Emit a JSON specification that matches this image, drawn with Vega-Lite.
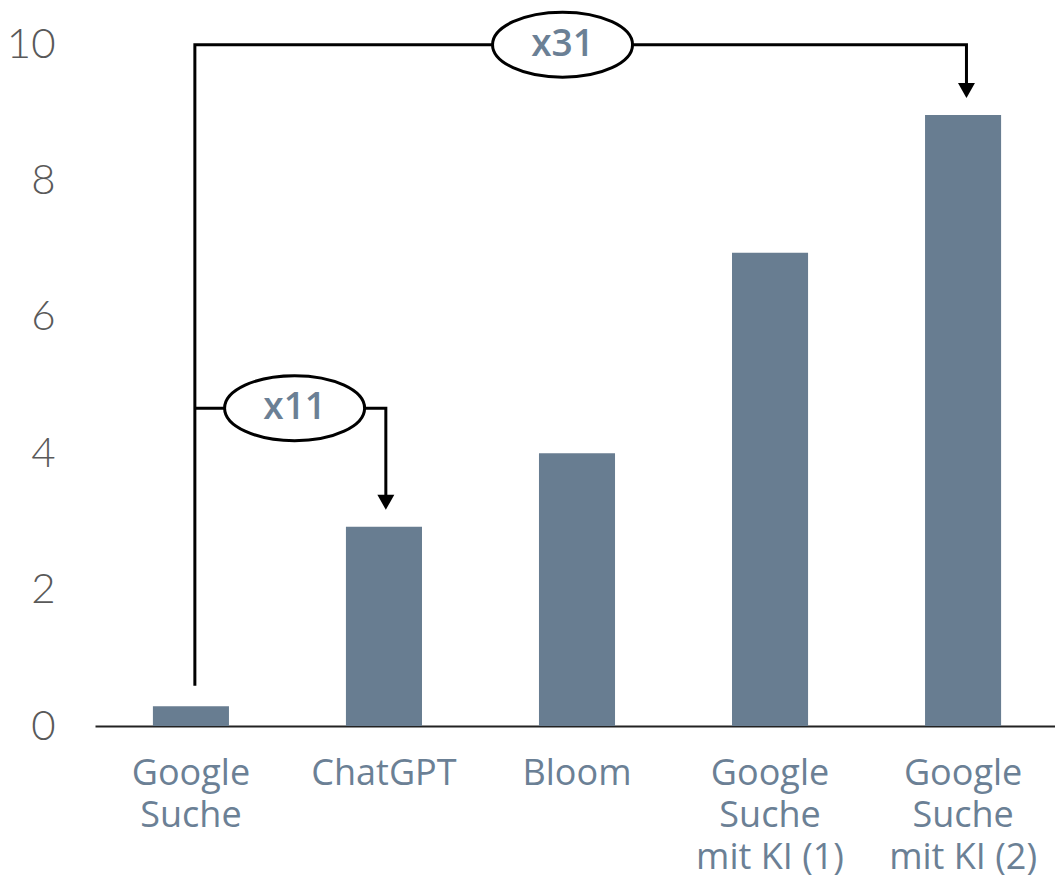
{
  "$schema": "https://vega.github.io/schema/vega-lite/v6.json",
  "width": 964,
  "height": 682,
  "autosize": {"type": "none"},
  "padding": {"left": 95, "top": 44, "right": 0, "bottom": 155},
  "background": "white",
  "config": {
    "view": {"stroke": null},
    "axis": {"grid": false},
    "axisY": {
      "domain": false,
      "ticks": false,
      "labelFont": "Lato",
      "labelFontWeight": 300,
      "labelFontSize": 42,
      "labelColor": "#595959",
      "labelPadding": 40,
      "tickCount": 5
    },
    "axisX": {
      "domainColor": "#222222",
      "domainWidth": 2,
      "ticks": false,
      "labelAngle": 0,
      "labelFont": "Open Sans",
      "labelFontSize": 36,
      "labelColor": "#6b8095",
      "labelPadding": 30,
      "labelLineHeight": 42,
      "labelLimit": 300
    }
  },
  "datasets": {
    "bars": [
      {"system": "Google\nSuche", "value": 0.29},
      {"system": "ChatGPT", "value": 2.92},
      {"system": "Bloom", "value": 4.0},
      {"system": "Google\nSuche\nmit KI (1)", "value": 6.94},
      {"system": "Google\nSuche\nmit KI (2)", "value": 8.96}
    ],
    "paths": [
      {"arrow": "x31", "step": 1, "pos": 0.02, "value": 0.59},
      {"arrow": "x31", "step": 2, "pos": 0.02, "value": 9.99},
      {"arrow": "x31", "step": 3, "pos": 4.02, "value": 9.99},
      {"arrow": "x31", "step": 4, "pos": 4.02, "value": 9.35},
      {"arrow": "x11", "step": 1, "pos": 0.02, "value": 4.66},
      {"arrow": "x11", "step": 2, "pos": 1.01, "value": 4.66},
      {"arrow": "x11", "step": 3, "pos": 1.01, "value": 3.33}
    ],
    "badges": [
      {"label": "x31", "pos": 1.926, "value": 9.99},
      {"label": "x11", "pos": 0.537, "value": 4.66}
    ],
    "tips": [
      {"arrow": "x31", "pos": 4.02, "value": 9.21},
      {"arrow": "x11", "pos": 1.01, "value": 3.17}
    ]
  },
  "resolve": {"scale": {"x": "independent"}},
  "layer": [
    {
      "data": {"name": "bars"},
      "mark": {"type": "bar", "color": "#687d91"},
      "encoding": {
        "x": {
          "field": "system",
          "type": "nominal",
          "sort": null,
          "title": null,
          "scale": {"paddingInner": 0.606, "paddingOuter": 0.3},
          "axis": {"labelExpr": "split(datum.label, '\\n')", "labelOverlap": false}
        },
        "y": {
          "field": "value",
          "type": "quantitative",
          "title": null,
          "scale": {"domain": [0, 10], "nice": false}
        }
      }
    },
    {
      "layer": [
        {
          "data": {"name": "paths"},
          "mark": {"type": "line", "color": "black", "strokeWidth": 3, "strokeCap": "butt", "strokeJoin": "miter"},
          "encoding": {
            "x": {"field": "pos", "type": "quantitative", "scale": {"domain": [-0.4977, 4.4997], "nice": false, "zero": false}, "axis": null},
            "y": {"field": "value", "type": "quantitative", "title": null},
            "detail": {"field": "arrow"},
            "order": {"field": "step"}
          }
        },
        {
          "data": {"name": "tips"},
          "mark": {"type": "point", "shape": "M-1,-1.76L1,-1.76L0,0Z", "size": 289, "filled": true, "fill": "black", "strokeWidth": 0, "opacity": 1},
          "encoding": {
            "x": {"field": "pos", "type": "quantitative", "scale": {"domain": [-0.4977, 4.4997], "nice": false, "zero": false}, "axis": null},
            "y": {"field": "value", "type": "quantitative", "title": null}
          }
        },
        {
          "data": {"name": "badges"},
          "mark": {
            "type": "point",
            "shape": "M-1,0C-1,-0.2563,-0.5523,-0.464,0,-0.464C0.5523,-0.464,1,-0.2563,1,0C1,0.2563,0.5523,0.464,0,0.464C-0.5523,0.464,-1,0.2563,-1,0Z",
            "size": 19600,
            "filled": true,
            "fill": "white",
            "stroke": "black",
            "strokeWidth": 3,
            "opacity": 1
          },
          "encoding": {
            "x": {"field": "pos", "type": "quantitative", "scale": {"domain": [-0.4977, 4.4997], "nice": false, "zero": false}, "axis": null},
            "y": {"field": "value", "type": "quantitative", "title": null}
          }
        },
        {
          "data": {"name": "badges"},
          "mark": {"type": "text", "font": "Open Sans", "fontSize": 37, "fontWeight": 600, "color": "#6b8095", "align": "center", "baseline": "middle"},
          "encoding": {
            "x": {"field": "pos", "type": "quantitative", "scale": {"domain": [-0.4977, 4.4997], "nice": false, "zero": false}, "axis": null},
            "y": {"field": "value", "type": "quantitative", "title": null},
            "text": {"field": "label"}
          }
        }
      ]
    }
  ]
}
